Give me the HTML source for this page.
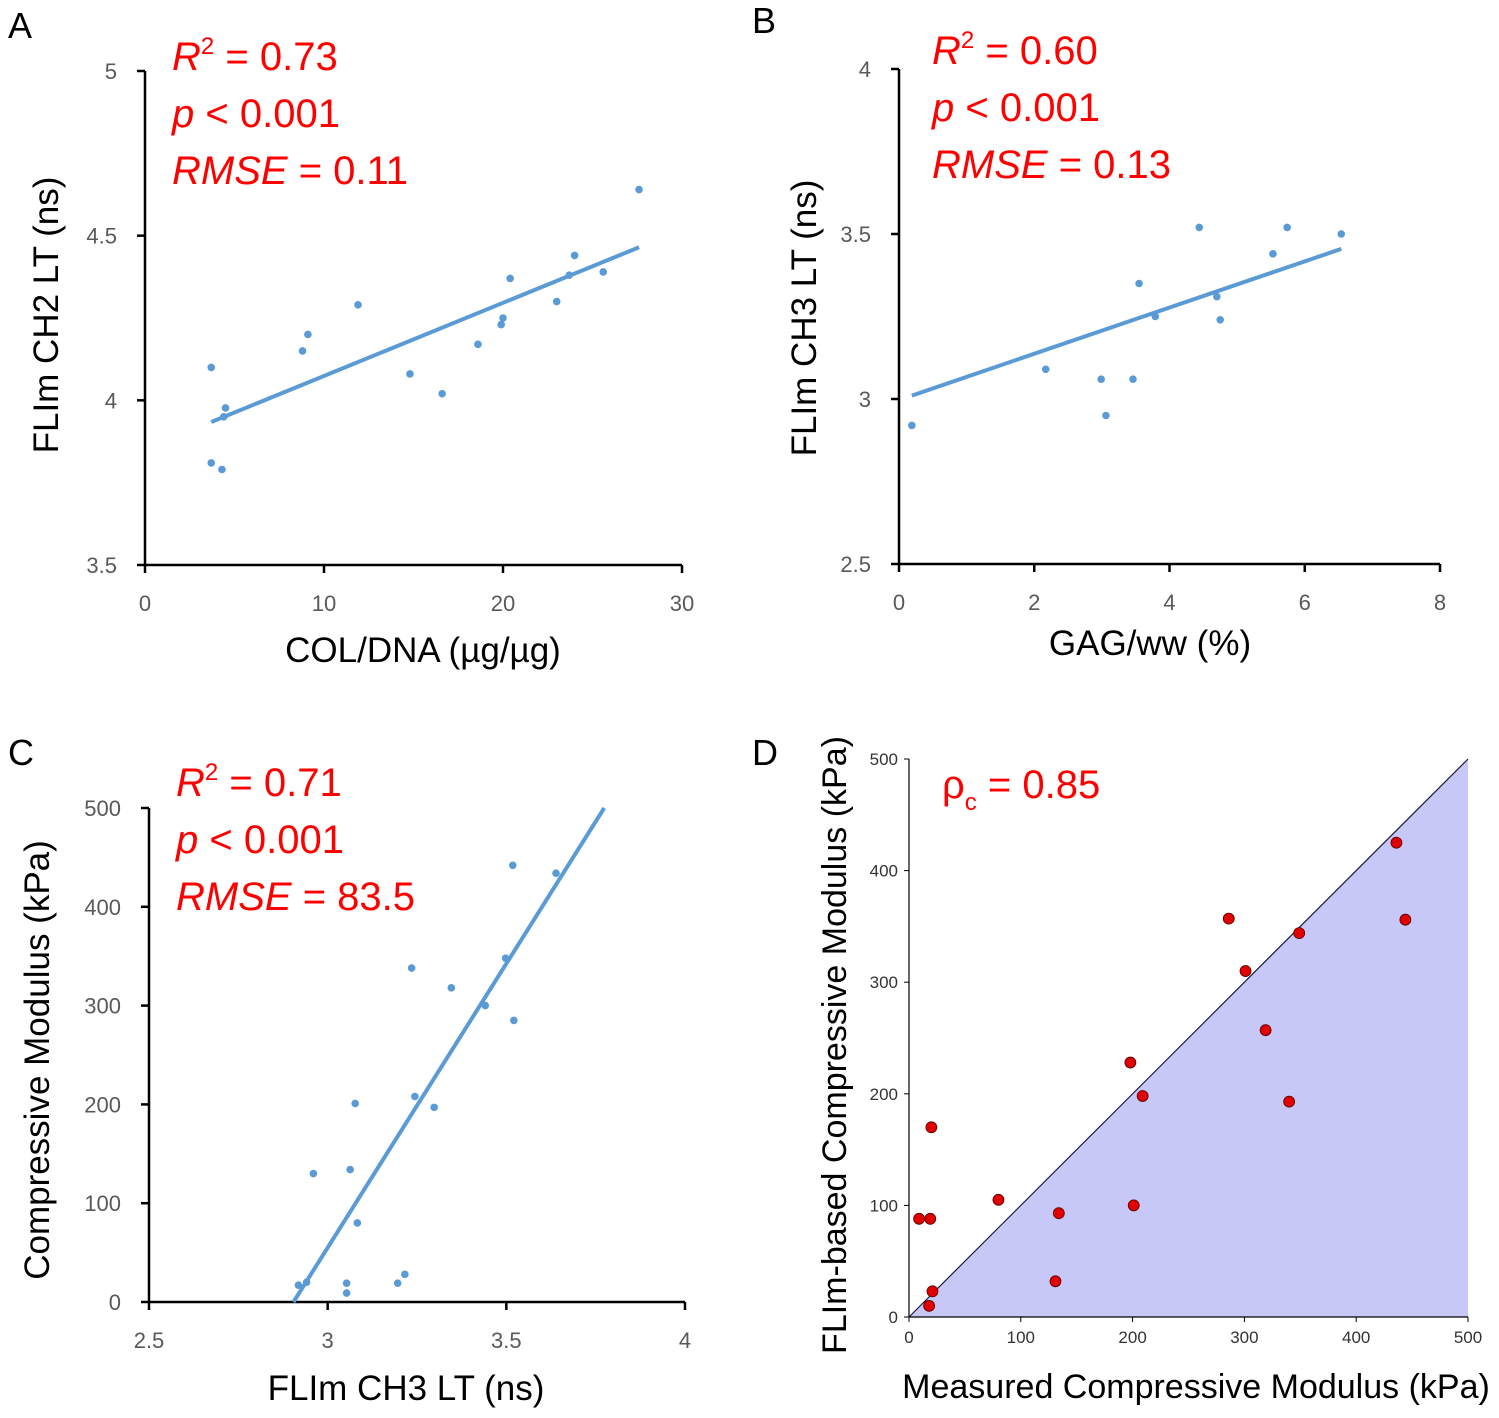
<!DOCTYPE html>
<html><head><meta charset="utf-8"><style>
html,body{margin:0;padding:0;background:#fff;}
svg{display:block;font-family:"Liberation Sans","DejaVu Sans",sans-serif;}
.tk{font-size:22px;fill:#595959;}
.tkd{font-size:17px;fill:#333;}
.ttl{font-size:35px;fill:#000;}
.ttld{font-size:34px;fill:#000;}
.st{font-size:40px;fill:#ff0000;}
.pl{font-size:36px;fill:#000;}
</style></head><body>
<svg id="fig" width="1499" height="1418" viewBox="0 0 1499 1418" xmlns="http://www.w3.org/2000/svg">
<text class="pl" x="8" y="38">A</text>
<text class="pl" x="752" y="33">B</text>
<text class="pl" x="8" y="765">C</text>
<text class="pl" x="752" y="765">D</text>

<g class="st">
<text x="172" y="70"><tspan font-style="italic">R</tspan><tspan font-size="24" dy="-16">2</tspan><tspan dy="16"> = 0.73</tspan></text>
<text x="172" y="127"><tspan font-style="italic">p</tspan> &lt; 0.001</text>
<text x="172" y="184"><tspan font-style="italic">RMSE</tspan> = 0.11</text>
</g>
<g class="st">
<text x="932" y="64"><tspan font-style="italic">R</tspan><tspan font-size="24" dy="-16">2</tspan><tspan dy="16"> = 0.60</tspan></text>
<text x="932" y="121"><tspan font-style="italic">p</tspan> &lt; 0.001</text>
<text x="932" y="178"><tspan font-style="italic">RMSE</tspan> = 0.13</text>
</g>
<g class="st">
<text x="176" y="796"><tspan font-style="italic">R</tspan><tspan font-size="24" dy="-16">2</tspan><tspan dy="16"> = 0.71</tspan></text>
<text x="176" y="853"><tspan font-style="italic">p</tspan> &lt; 0.001</text>
<text x="176" y="910"><tspan font-style="italic">RMSE</tspan> = 83.5</text>
</g>
<g class="st">
<text x="942" y="798">ρ<tspan font-size="24" dy="12">c</tspan><tspan dy="-12"> = 0.85</tspan></text>
</g>

<text class="ttl" transform="translate(58,315) rotate(-90)" text-anchor="middle">FLIm CH2 LT (ns)</text>
<text class="ttl" x="423" y="662" text-anchor="middle">COL/DNA (µg/µg)</text>
<text class="ttl" transform="translate(816,318) rotate(-90)" text-anchor="middle">FLIm CH3 LT (ns)</text>
<text class="ttl" x="1150" y="655" text-anchor="middle">GAG/ww (%)</text>
<text class="ttl" transform="translate(49,1060) rotate(-90)" text-anchor="middle">Compressive Modulus (kPa)</text>
<text class="ttl" x="406" y="1400" text-anchor="middle">FLIm CH3 LT (ns)</text>
<text class="ttld" transform="translate(846,1045) rotate(-90)" text-anchor="middle">FLIm-based Compressive Modulus (kPa)</text>
<text class="ttld" x="1196" y="1398" text-anchor="middle">Measured Compressive Modulus (kPa)</text>
<g id="plots"></g>
</svg>
<script>
// Panel A
const aX = [3.7,4.5,4.4,3.7,4.3,8.8,9.1,11.9,14.8,16.6,18.6,19.9,20.0,20.4,23.0,23.7,24.0,25.6,27.6];
const aY = [4.10,3.977,3.95,3.81,3.79,4.15,4.20,4.29,4.08,4.02,4.17,4.23,4.25,4.37,4.30,4.38,4.44,4.39,4.64];
const aFit = [0.0222,3.852];
const aXTicks = [0,10,20,30];
const aYTicks = [3.5,4,4.5,5];
// Panel B
const bX = [0.19,2.17,2.99,3.06,3.46,3.55,3.79,4.44,4.70,4.75,5.53,5.74,6.54];
const bY = [2.92,3.09,3.06,2.95,3.06,3.35,3.25,3.52,3.31,3.24,3.44,3.52,3.50];
const bFit = [0.070,2.997];
const bXTicks = [0,2,4,6,8];
const bYTicks = [2.5,3,3.5,4];
// Panel C
const cX = [2.918,2.941,3.053,3.053,3.196,3.216,3.083,2.96,3.063,3.077,3.244,3.298,3.235,3.346,3.441,3.521,3.498,3.518,3.639];
const cY = [17,20,19,9,19,28,80,130,134,201,208,197,338,318,300,285,348,442,434];
const cFit = [575,-1670];
const cXTicks = [2.5,3,3.5,4];
const cYTicks = [0,100,200,300,400,500];
// Panel D
const dX = [9,19,20,21,18,80,134,131,198,201,209,286,301,319,340,349,436,444];
const dY = [88,88,170,23,10,105,93,32,228,100,198,357,310,257,193,344,425,356];
const dTicks = [0,100,200,300,400,500];

const NS="http://www.w3.org/2000/svg";
const root=document.getElementById('plots');
function mk(tag,attrs,parent){const e=document.createElementNS(NS,tag);for(const k in attrs)e.setAttribute(k,attrs[k]);(parent||root).appendChild(e);return e;}
function lin(d0,d1,p0,p1){return v=>p0+(v-d0)*(p1-p0)/(d1-d0);}
function fmt(v){return String(v);}

function panel(id,xs,ys,fit,xt,yt,box,yClip){
  const g=mk('g',{});
  
  
  const sx=lin(xt[0],xt[xt.length-1],box.x0,box.x1);
  const sy=lin(yt[0],yt[yt.length-1],box.y0,box.y1);
  const ax=mk('line',{x1:box.x0,y1:box.y0,x2:box.x1,y2:box.y0,stroke:'#000','stroke-width':2.5},g);
  
  
  const ay=mk('line',{x1:box.x0,y1:box.y0,x2:box.x0,y2:box.y1,stroke:'#000','stroke-width':2.5},g);
  
  
  xt.forEach(t=>{const x=sx(t);
    mk('line',{x1:x,y1:box.y0,x2:x,y2:box.y0+8,stroke:'#000','stroke-width':2.5},g);
    const tx=mk('text',{x:x,y:box.y0+46,'text-anchor':'middle',class:'tk'},g);tx.textContent=fmt(t);
    
    });
  yt.forEach(t=>{const y=sy(t);
    mk('line',{x1:box.x0-8,y1:y,x2:box.x0,y2:y,stroke:'#000','stroke-width':2.5},g);
    const tx=mk('text',{x:box.x0-28,y:y+8,'text-anchor':'end',class:'tk'},g);tx.textContent=fmt(t);
    
    });
  let xa,xb;
  if(yClip){xa=(yt[0]-fit[1])/fit[0];xb=(yt[yt.length-1]-fit[1])/fit[0];}
  else{xa=Math.min(...xs);xb=Math.max(...xs);}
  const fl=mk('line',{x1:sx(xa),y1:sy(fit[0]*xa+fit[1]),x2:sx(xb),y2:sy(fit[0]*xb+fit[1]),stroke:'#5b9bd5','stroke-width':4},g);
  
  
  xs.forEach((v,i)=>{const c=mk('circle',{cx:sx(v),cy:sy(ys[i]),r:3.8,fill:'#5b9bd5'},g);
    
    });
}
panel('a',aX,aY,aFit,aXTicks,aYTicks,{x0:145,x1:682,y0:565,y1:71},false);
panel('b',bX,bY,bFit,bXTicks,bYTicks,{x0:899,x1:1440,y0:564,y1:69},false);
panel('c',cX,cY,cFit,cXTicks,cYTicks,{x0:149,x1:685,y0:1302,y1:808},true);

(function(){
  const g=mk('g',{});
  
  
  const sx=lin(0,500,909,1468), sy=lin(0,500,1317,759);
  const tri=mk('polygon',{points:`${sx(0)},${sy(0)} ${sx(500)},${sy(500)} ${sx(500)},${sy(0)}`,fill:'#c8c8f8'},g);
  
  
  const idl=mk('line',{x1:sx(0),y1:sy(0),x2:sx(500),y2:sy(500),stroke:'#1a1a40','stroke-width':1.2},g);
  
  
  const ax=mk('line',{x1:909,y1:1317,x2:1468,y2:1317,stroke:'#000','stroke-width':1.2},g);
  
  
  const ay=mk('line',{x1:909,y1:1317,x2:909,y2:759,stroke:'#000','stroke-width':1.2},g);
  
  
  dTicks.forEach(t=>{
    mk('line',{x1:sx(t),y1:1317,x2:sx(t),y2:1322,stroke:'#000'},g);
    mk('line',{x1:904,y1:sy(t),x2:909,y2:sy(t),stroke:'#000'},g);
    const a=mk('text',{x:sx(t),y:1343,'text-anchor':'middle',class:'tkd'},g);a.textContent=t;
    
    
    const b=mk('text',{x:898,y:sy(t)+6,'text-anchor':'end',class:'tkd'},g);b.textContent=t;
    
    
  });
  dX.forEach((v,i)=>{const c=mk('circle',{cx:sx(v),cy:sy(dY[i]),r:5.5,fill:'#e00000',stroke:'#500','stroke-width':0.8},g);
    
    });
})();
</script>
</body></html>
